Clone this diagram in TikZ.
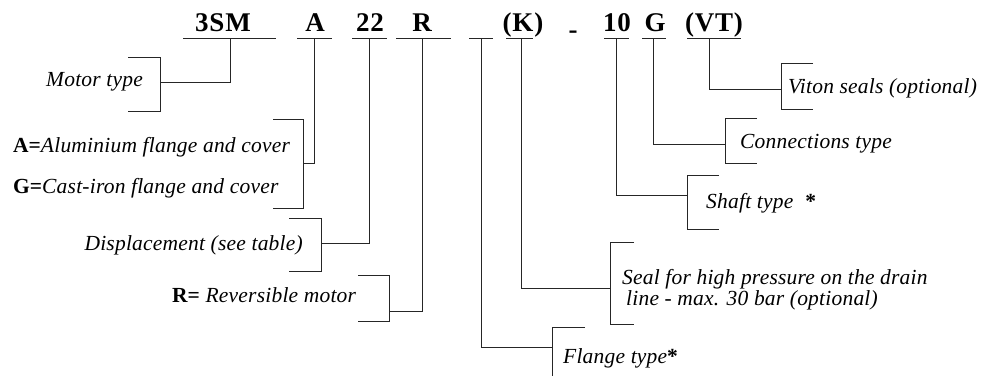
\documentclass[tikz,border=0pt]{standalone}
\usepackage{fontspec}
\setmainfont{Liberation Serif}
\newfontfamily\codefont[LetterSpace=3]{Liberation Serif}
\newfontfamily\labelfont[LetterSpace=1]{Liberation Serif}

\tikzset{
  code/.style={anchor=base, inner sep=0pt, font=\codefont\bfseries\fontsize{27}{30}\selectfont},
  lbl/.style={inner sep=0pt, font=\labelfont\itshape\fontsize{21.5}{21}\selectfont},
  wire/.style={line width=0.9pt, black!85},
}
% bracket: x, top, bottom, tick end
\newcommand{\brk}[4]{\draw[wire] (#4,#2) -- (#1,#2) -- (#1,#3) -- (#4,#3);}
\newcommand{\bopt}[1]{{\normalfont\bfseries #1}}

\begin{document}
\begin{tikzpicture}[x=1pt,y=-1pt]
	\useasboundingbox (0,0) rectangle (983,376);
	
	% code letters
	\node[code] (c3sm) at (223,31) {3SM};
	\node[code] (cA) at (315,31) {A};
	\node[code] (c22) at (370,31) {22};
	\node[code] (cR) at (422,31) {R};
	\node[code] (cK) at (523,31) {(K)};
	\node[code] (cdash) at (573,38) {-};
	\node[code] (c10) at (617,31) {10};
	\node[code] (cG) at (655,31) {G};
	\node[code] (cVT) at (714,31) {(VT)};
	
	% underlines
	\draw[wire] (183,38) -- (276,38);
	\draw[wire] (297,38) -- (332,38);
	\draw[wire] (352,38) -- (387,38);
	\draw[wire] (396,38) -- (451,38);
	\draw[wire] (469,38) -- (493,38);
	\draw[wire] (506,38) -- (533,38);
	\draw[wire] (604,38) -- (629,38);
	\draw[wire] (642,38) -- (666,38);
	\draw[wire] (687,38) -- (741,38);
	
	\coordinate (t3sm) at (230,38);
	\coordinate (tA) at (314,38);
	\coordinate (t22) at (369,38);
	\coordinate (tR) at (422,38);
	\coordinate (tF) at (481,38);
	\coordinate (tK) at (521,38);
	\coordinate (t10) at (616,38);
	\coordinate (tG) at (653,38);
	\coordinate (tVT) at (709,38);
	
	% brackets
	\brk{160}{57}{111}{128}
	\brk{303}{119}{208}{273}
	\brk{321}{218}{271}{289}
	\brk{389}{275}{321}{358}
	\draw[wire] (585,327) -- (552,327) -- (552,376);
	\brk{610}{242}{324}{634}
	\brk{687}{175}{229}{719}
	\brk{725}{118}{163}{757}
	\brk{781}{63}{109}{813}
	
	\coordinate (bMotor) at (160,82);
	\coordinate (bMat) at (303,163);
	\coordinate (bDisp) at (321,243);
	\coordinate (bRev) at (389,311);
	\coordinate (bFlange) at (552,347);
	\coordinate (bSeal) at (610,288);
	\coordinate (bShaft) at (687,195);
	\coordinate (bConn) at (725,144);
	\coordinate (bViton) at (781,89);
	
	\draw[wire] (t3sm) |- (bMotor);
	\draw[wire] (tA) |- (bMat);
	\draw[wire] (t22) |- (bDisp);
	\draw[wire] (tR) |- (bRev);
	\draw[wire] (tF) |- (bFlange);
	\draw[wire] (tK) |- (bSeal);
	\draw[wire] (t10) |- (bShaft);
	\draw[wire] (tG) |- (bConn);
	\draw[wire] (tVT) |- (bViton);
	
	% labels
	\node[lbl, anchor=west] (motor) at (46,82) {Motor type};
	\node[lbl, anchor=west] (alu) at (13,147) {\bopt{A=}Aluminium flange and cover};
	\node[lbl, anchor=west] (iron) at (13,188) {\bopt{G=}Cast-iron flange and cover};
	\node[lbl, anchor=east] (disp) at (303,245) {Displacement (see table)};
	\node[lbl, anchor=west] (rev) at (172,295) {\bopt{R=} Reversible motor};
	\node[lbl, anchor=west, align=left] (seal) at (622,290) {Seal for high pressure on the drain\\\hspace{4pt}line - max. 30 bar (optional)};
	\node[lbl, anchor=west] (flange) at (563,358) {Flange type\bopt{*}};
	\node[lbl, anchor=west] (shaft) at (706,203) {Shaft type\hspace{12pt}\bopt{*}};
	\node[lbl, anchor=west] (conn) at (740,144) {Connections type};
	\node[lbl, anchor=west] (viton) at (788,88) {Viton seals (optional)};
\end{tikzpicture}
\end{document}
